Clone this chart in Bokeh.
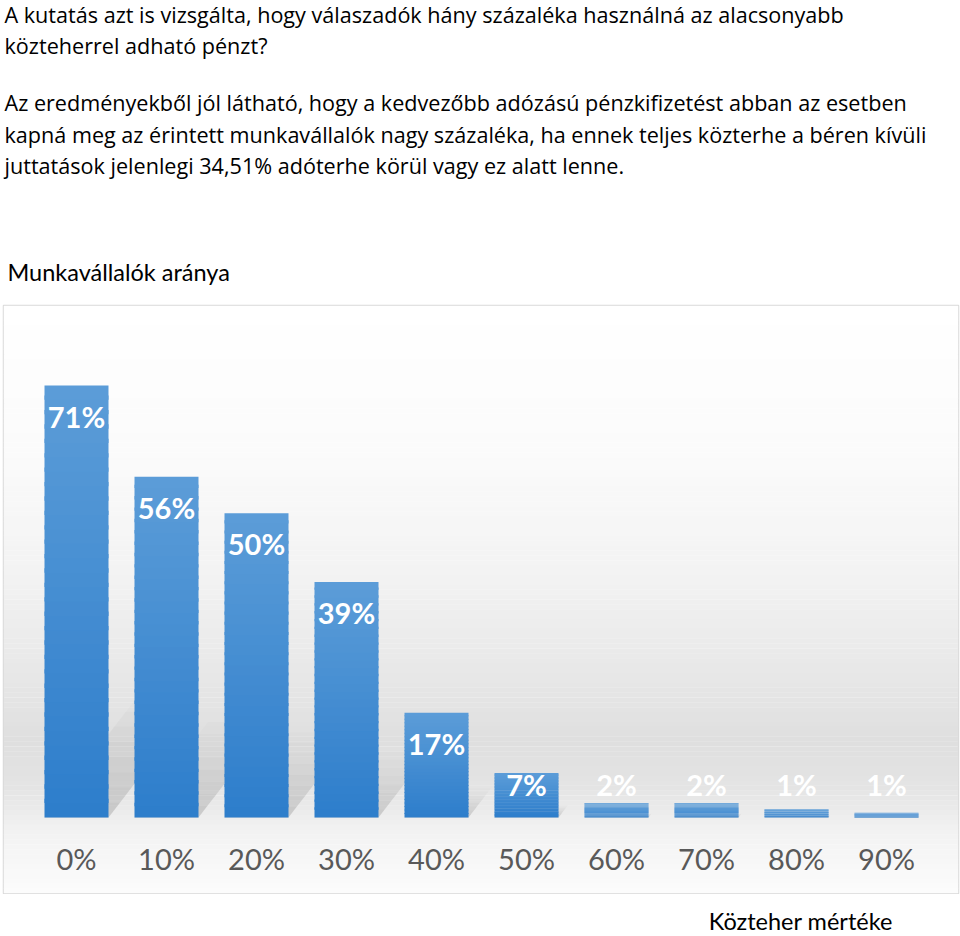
import numpy as np
from bokeh.plotting import figure
from bokeh.models import Range1d
from bokeh.layouts import column
from bokeh.core.properties import value
from bokeh.embed import file_html
from bokeh.resources import INLINE

# ---------------- data ----------------
categories = ["0%", "10%", "20%", "30%", "40%", "50%", "60%", "70%", "80%", "90%"]
shares = [71.0, 56.0, 50.0, 38.7, 17.2, 7.3, 2.4, 2.4, 1.4, 0.8]
share_labels = [f"{round(v)}%" for v in shares]

para1 = [
    "A kutatás azt is vizsgálta, hogy válaszadók hány százaléka használná az alacsonyabb",
    "közteherrel adható pénzt?",
]
para2 = [
    "Az eredményekből jól látható, hogy a kedvezőbb adózású pénzkifizetést abban az esetben",
    "kapná meg az érintett munkavállalók nagy százaléka, ha ennek teljes közterhe a béren kívüli",
    "juttatások jelenlegi 34,51% adóterhe körül vagy ez alatt lenne.",
]
chart_title = "Munkavállalók aránya"
x_title = "Közteher mértéke"

FONT = "Lato"
BODY_FONT = "Open Sans"
W = 960

# ---------------- top text block ----------------
H_TOP = 304
top = figure(width=W, height=H_TOP, x_range=Range1d(0, W), y_range=Range1d(H_TOP, 0),
             output_backend="svg", toolbar_location=None, min_border=0,
             x_axis_type=None, y_axis_type=None)
top.outline_line_color = None
top.background_fill_color = "white"
top.border_fill_color = "white"
text_lines = para1 + para2
baselines = [13.5, 44.5, 102, 133.7, 165.3]
top.text(x=[1] * len(text_lines), y=baselines, text=text_lines,
         text_font=value(BODY_FONT), text_font_size="21.6px", text_color="black",
         text_baseline="alphabetic", text_align="left")
top.text(x=[4], y=[271.7], text=[chart_title], text_font=value(FONT),
         text_font_size="23.5px", text_color="black", text_baseline="alphabetic")

# ---------------- chart ----------------
H_CH = 590
x = np.arange(len(categories))
vals = np.array(shares)
x0, x1 = -0.8111, 9.8
y0, y1 = -12.49, 84.14
ch = figure(width=W, height=H_CH, x_range=Range1d(x0, x1), y_range=Range1d(y0, y1),
            output_backend="svg", toolbar_location=None,
            x_axis_type=None, y_axis_type=None,
            min_border_left=3, min_border_right=2, min_border_top=1, min_border_bottom=1)
ch.outline_line_color = "#d9d9d9"
ch.outline_line_width = 1.5
ch.border_fill_color = "white"
ch.background_fill_color = "white"

# background gradient (fraction from top -> grey level)
stops_f = [0.0, 0.25, 0.45, 0.62, 0.74, 0.82, 0.90, 1.0]
stops_g = [255, 251, 243, 232, 223, 228, 243, 252]
nb = 120
edges = np.linspace(y1, y0, nb + 1)
for i in range(nb):
    f = (i + 0.5) / nb
    g = int(round(np.interp(f, stops_f, stops_g)))
    col = "#%02x%02x%02x" % (g, g, g)
    ch.quad(left=x0, right=x1, top=edges[i] + 0.02, bottom=edges[i + 1] - 0.02,
            fill_color=col, line_color=None)

# soft perspective shadows behind the bars (derived from bar heights)
BW = 0.711
px_per_x = 90.0
px_per_y = 6.085
ns = 8
for k in range(ns):
    fa, fb = k / ns, (k + 1) / ns
    xs_list, ys_list = [], []
    for xi, v in zip(x, vals):
        H = 0.28 * v                      # shadow height in data units
        shear = (H * px_per_y / 1.3) / px_per_x   # horizontal shift in x units at top
        ya, yb = H * fa, H * fb
        sa, sb = shear * fa, shear * fb
        xl, xr = xi - BW / 2, xi + BW / 2
        xs_list.append([xl + sa, xr + sa, xr + sb, xl + sb])
        ys_list.append([ya, ya, yb, yb])
    alpha = 0.26 * (1 - fa) ** 1.2
    ch.patches(xs=xs_list, ys=ys_list, fill_color="#6e6e6e", fill_alpha=alpha,
               line_color=None)

# bars with vertical gradient
N = 30
top_rgb = np.array([0x5c, 0x9d, 0xd8])
bot_rgb = np.array([0x2d, 0x7d, 0xcb])
for k in range(N):
    f0, f1 = k / N, (k + 1) / N
    t = (f0 + f1) / 2
    rgb = bot_rgb + (top_rgb - bot_rgb) * t
    col = "#%02x%02x%02x" % tuple(int(round(c)) for c in rgb)
    ch.vbar(x=x, width=BW, bottom=vals * f0, top=np.minimum(vals * (f1 + 0.01), vals),
            fill_color=col, line_color=None)

# value labels
label_y = np.maximum(vals - 7.07, 3.45) + 2.05
ch.text(x=x, y=label_y, text=share_labels, text_font=value(FONT), text_font_size="29px",
        text_font_style="bold", text_color="white", text_align="center",
        text_baseline="alphabetic")

# category labels
ch.text(x=x, y=[-6.66] * len(categories), text=categories, text_font=value(FONT),
        text_font_size="29px", text_color="#595959", text_align="center",
        text_baseline="alphabetic")

# ---------------- bottom axis title ----------------
H_BOT = 42
bot = figure(width=W, height=H_BOT, x_range=Range1d(0, W), y_range=Range1d(H_BOT, 0),
             output_backend="svg", toolbar_location=None, min_border=0,
             x_axis_type=None, y_axis_type=None)
bot.outline_line_color = None
bot.text(x=[894], y=[26.5], text=[x_title], text_font=value(FONT), text_font_size="23.5px",
         text_color="black", text_align="right", text_baseline="alphabetic")

layout = column(top, ch, bot, spacing=0)
open("out.html", "w").write(file_html(layout, INLINE))
